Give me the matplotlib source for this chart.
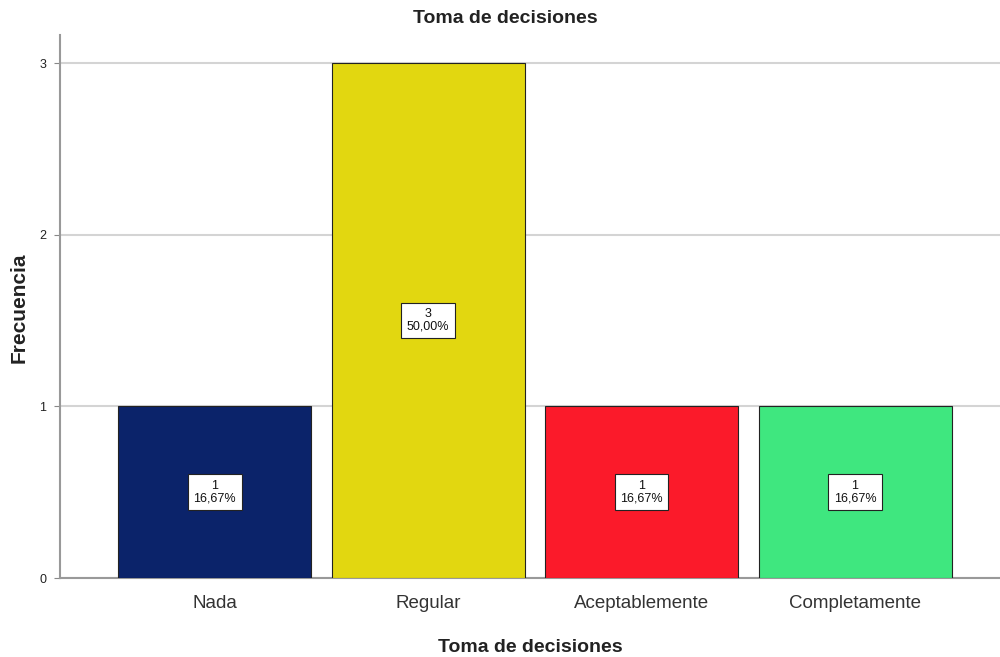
import matplotlib
matplotlib.use("Agg")
import matplotlib.pyplot as plt

categories = ["Nada", "Regular", "Aceptablemente", "Completamente"]
counts = [1, 3, 1, 1]
percents = ["16,67%", "50,00%", "16,67%", "16,67%"]
colors = ["#0b236a", "#e2d710", "#fb1a2a", "#3fe77f"]

plt.rcParams["font.family"] = ["Arial", "Liberation Sans", "DejaVu Sans"]

fig = plt.figure(figsize=(10, 6.57), dpi=100)
ax = fig.add_axes([0.06, 0.1202, 0.94, 0.8265])

x = list(range(len(categories)))
ax.bar(x, counts, width=0.904, color=colors, edgecolor="#222222", linewidth=0.8, zorder=3)

for i, (c, p) in enumerate(zip(counts, percents)):
    ax.text(i, c / 2, f"{c}\n{p}", ha="center", va="center", fontsize=9, linespacing=1.05,
            color="#111111", zorder=4,
            bbox=dict(boxstyle="square,pad=0.45", facecolor="white", edgecolor="#222222", linewidth=0.8))

ax.set_xlim(-0.724, 3.679)
ax.set_ylim(0, 3.163)
ax.set_yticks([0, 1, 2, 3])
ax.set_xticks(x)
ax.set_xticklabels(categories, fontsize=13.5, color="#333333")
ax.tick_params(axis="y", labelsize=9, length=4, pad=6, color="#888888", labelcolor="#222222")
ax.tick_params(axis="x", length=0, pad=12)
ax.grid(axis="y", color="#d4d4d4", linewidth=1.5, zorder=0)

for s in ["top", "right"]:
    ax.spines[s].set_visible(False)
for s in ["left", "bottom"]:
    ax.spines[s].set_color("#999999")
    ax.spines[s].set_linewidth(1.5)

fig.text(0.505, 0.972, "Toma de decisiones", ha="center", va="center", fontsize=14, fontweight="bold", color="#222222")
ax.set_xlabel("Toma de decisiones", fontsize=14, fontweight="bold", color="#222222", labelpad=20)
fig.text(0.019, 0.531, "Frecuencia", rotation=90, ha="center", va="center", fontsize=15, fontweight="bold", color="#222222")

fig.savefig("out.png", dpi=100)
